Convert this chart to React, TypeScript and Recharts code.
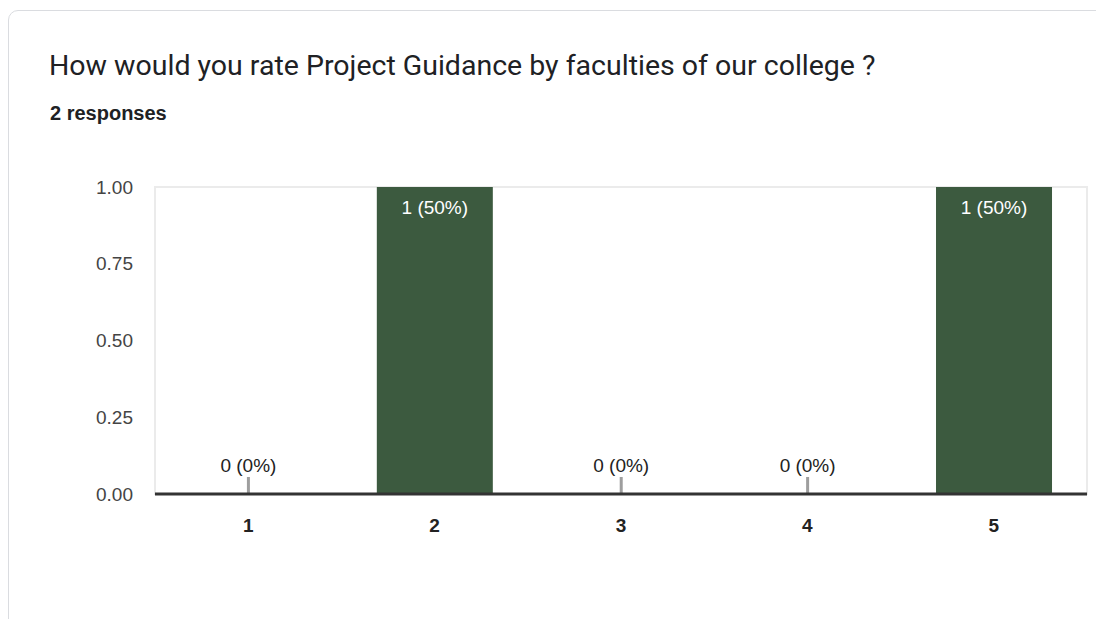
import React from "react";
import { BarChart, Bar, XAxis, YAxis, ReferenceArea, LabelList } from "recharts";

const categories = ["1", "2", "3", "4", "5"];
const counts = [0, 1, 0, 0, 1];
const totalResponses = 2;
const yTicks = [0, 0.25, 0.5, 0.75, 1];
const title = "How would you rate Project Guidance by faculties of our college ?";
const subtitle = "2 responses";

const data = categories.map((c, i) => ({
  name: c,
  value: counts[i],
  label: `${counts[i]} (${Math.round((counts[i] / totalResponses) * 100)}%)`,
}));

const BAR_COLOR = "#3c5a3f";
const FONT = "'Liberation Sans', Arial, sans-serif";

const BarShape = (props: any) => {
  const { x, y, width, height, value } = props;
  if (!value) {
    return <rect x={x + width / 2 - 1.5} y={y - 17} width={3} height={17} fill="#9e9e9e" />;
  }
  return <rect x={x} y={y} width={width} height={height} fill={BAR_COLOR} />;
};

const BarLabel = (props: any) => {
  const { x, y, width, value, index } = props;
  const cx = x + width / 2;
  const text = data[index].label;
  if (value > 0) {
    return (
      <text x={cx} y={y + 27} textAnchor="middle" fill="#ffffff" fontSize={19} fontFamily={FONT}>
        {text}
      </text>
    );
  }
  return (
    <text x={cx} y={y - 22} textAnchor="middle" fill="#222222" fontSize={19} fontFamily={FONT}>
      {text}
    </text>
  );
};

export default function App() {
  return (
    <div style={{ position: "absolute", left: 0, top: 0, width: 1096, height: 619, overflow: "hidden", background: "#fff" }}>
      <div
        style={{
          position: "absolute",
          left: 8,
          top: 10,
          width: 1120,
          height: 640,
          border: "1px solid #dadce0",
          borderRadius: 10,
          boxSizing: "border-box",
        }}
      />
      <div
        style={{
          position: "absolute",
          left: 49,
          top: 52,
          fontFamily: "Roboto, sans-serif",
          fontSize: 28.5,
          lineHeight: "28px",
          color: "#202124",
          whiteSpace: "nowrap",
        }}
      >
        {title}
      </div>
      <div
        style={{
          position: "absolute",
          left: 50,
          top: 103,
          fontFamily: FONT,
          fontWeight: "bold",
          fontSize: 20,
          lineHeight: "20px",
          color: "#202124",
          whiteSpace: "nowrap",
        }}
      >
        {subtitle}
      </div>
      <div style={{ position: "absolute", left: 0, top: 0 }}>
        <BarChart
          width={1096}
          height={560}
          data={data}
          margin={{ top: 187, right: 9, bottom: 36, left: 0 }}
          barCategoryGap="19%"
        >
          <ReferenceArea y1={0} y2={1} stroke="#ebebeb" strokeWidth={2} fill="none" ifOverflow="visible" />
          <XAxis
            dataKey="name"
            axisLine={{ stroke: "#333333", strokeWidth: 3 }}
            tickLine={false}
            tickSize={0}
            tickMargin={25}
            height={30}
            tick={{ fill: "#222222", fontSize: 19, fontWeight: "bold", fontFamily: FONT }}
          />
          <YAxis
            domain={[0, 1]}
            ticks={yTicks}
            width={155}
            axisLine={false}
            tickLine={false}
            tickSize={0}
            tickMargin={22}
            tickFormatter={(v: number) => v.toFixed(2)}
            tick={{ fill: "#444444", fontSize: 19, fontFamily: FONT }}
          />
          <Bar dataKey="value" isAnimationActive={false} shape={<BarShape />}>
            <LabelList dataKey="value" content={<BarLabel />} />
          </Bar>
        </BarChart>
      </div>
    </div>
  );
}
